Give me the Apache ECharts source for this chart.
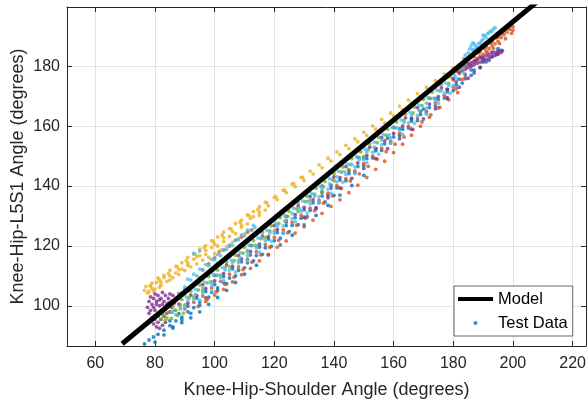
<!DOCTYPE html>
<html>
<head>
<meta charset="utf-8">
<script src="https://cdn.jsdelivr.net/npm/echarts@6/dist/echarts.min.js"></script>
<style>html,body{margin:0;padding:0;background:#fff}#c{width:588px;height:403px}</style>
</head>
<body>
<div id="c"></div>
<script>
// ---- data ----
var xTicks = [60, 80, 100, 120, 140, 160, 180, 200, 220];
var yTicks = [100, 120, 140, 160, 180];
var xRange = [50.5, 224.5];
var yRange = [86.6, 199.8];

var modelX = [69, 210];
var modelY = [87.35, 203.1];

var blueData = [
 [76.5,87.3],[78,88.6],[79.5,89.6],[81,90.5],[83,91.9],[85,93.4],[87,95.0],[89,96.2],[91,98.0],[93,99.4],[95,101.3],[97,102.7],[99,104.5],[101,106.0],[103,107.8],[105,109.3],[108,111.9],[111,114.4],[114,116.8],[117,119.4],[120,121.8],[123,124.3],[126,126.9],[129,129.3],[132,131.9],[135,134.4],[138,136.9],[141,139.4],[144,141.8],[147,144.5],[150,146.9],[153,149.4],[156,151.9],[159,154.4],[162,156.9],[165,159.4],[168,161.9],[171,164.4],[174,166.8],[177,169.4],[180,171.9],[183,174.4],[186,177.0],[189,179.5],[192,182.0],[194.5,184.0],[196.5,185.2],
 [86,92.6],[89,94.4],[92,96.0],[95,98.0],[98,100.5],[101,102.8],[104,105.2],[107,107.8],[110,110.6],[114,113.6],[118,117.0],[122,120.4],[126,123.6],[130,127.0],[134,130.2],[138,133.6],[142,137.0],[146,140.2],[150,143.6],
 [150,149.4],[154,152.5],[158,156.0],[162,159.1],[166,162.6],[170,165.7],[174,169.2],[178,172.3],[182,175.7],[186,178.8],[190,182.4],[193,184.8],[195,185.9],
 [85,95.0],[88,97.4],[91,99.9],[94,102.6],[97,104.8],[100,107.1],[103,109.8],[106,112.4],[109,114.7],[112,117.0],[115,119.6],[118,122.3],[121,124.5],[124,126.8],[127,129.5],[130,132.1],[133,134.4],[136,136.7],[139,139.3],[142,142.0],[145,144.2],[148,146.5],[151,149.2],[154,151.8],[157,154.1],[160,156.4],[163,159.0],[166,161.7],[169,163.9],[172,166.2],[175,168.9],[178,171.5],[181,173.8],[184,176.1],[187,178.7],[190,181.4],
 [80,87.9],[83,90.3],[86,93.0],[89,95.3],[92,97.5],[95,100.2],[98,102.9],[101,105.1],[104,107.4],[107,110.0],[110,112.7],[113,115.0],[116,117.2],[119,119.9],[122,122.6],[125,124.8],[128,127.1],[131,129.8],[134,132.4],[137,134.7],[140,136.9]
];
var orangeData = [
 [97,101.5],[100,103.6],[103,105.5],[106,108.0],[109,110.4],[112,112.5],[115,115.0],[118,117.2],[121,119.6],[124,121.7],[127,124.3],[130,126.4],[133,128.6],[136,130.9],[139,133.2],[142,135.4],[145,137.8],[148,140.3],[151,142.9],[154,145.6],[157,148.3],[160,151.2],[163,154.0],[166,157.0],[169,160.0],[172,163.0],[175,166.1],[178,169.2],[181,172.5],[184,175.8],
 [90,99.0],[93,101.2],[96,103.3],[99,106.0],[102,108.2],[105,110.6],[108,113.0],[111,115.6],[114,118.0],[117,120.5],[120,122.9],[123,125.4],[126,127.9],[129,130.3],[132,132.6],[135,135.3],[138,137.6],[141,140.2],[144,142.5],[147,145.1],[150,147.6],[153,150.0],[156,152.6],[159,155.0],[162,157.6],[165,160.0],[168,162.7],[171,165.0],[174,167.8],[177,170.3],[180,173.0],[183,175.6],
 [88,104.2],[90,105.5],[92,106.2],[96,112.0],[98,114.0],[100,116.0],[101.5,118.0],[103,118.6],[105,120.0],[107,121.9],[109,123.0],[111,124.6],[112.5,125.4],
 [180,175.5],[182,177.6],[184,179.0],[185.5,180.6],[187,181.4],[188,182.6],[189,183.3],[190,184.0],[191,185.0],[192,185.9],[193,186.8],[194,187.5],[195,188.4],[196,189.6],[197,190.5],[198,191.4],[199,192.3],[200,193.2],
 [188.5,184.5],[190.5,186.0],[192.5,187.8],[194.5,189.6],[196.5,191.3],[198.5,192.8],
 [186,180.0],[187.5,181.8],[189.5,183.0],[191.5,184.6],[193.5,186.0],[195.5,187.6],[197.5,189.2],[199.5,191.0],[196,190.8],[198,192.5],[200,192.0],[199,193.5],[197,191.8],[195,189.8],[193,188.2],[191,186.5],[189,184.8],[187,183.2],
 [94.5,99.8],[97.5,102.2],[100.5,104.7],[103.5,107.2],[106.5,109.6],[109.5,112.1],[112.5,114.6],[115.5,117.0],[118.5,119.5],[121.5,121.9],[124.5,124.4],[127.5,126.9],[130.5,129.3],[133.5,131.8],[136.5,134.3],[139.5,136.7],[142.5,139.2],[145.5,141.7],[148.5,144.1],[151.5,146.6],[154.5,149.0],[157.5,151.5],[160.5,154.0],[163.5,156.4],[166.5,158.9],[169.5,161.4],[172.5,163.8],[175.5,166.3],[178.5,168.8],[181.5,171.2]
];
var yellowData = [
 [77,106.5],[79,107.6],[81,109.3],[83,110.2],[85,111.9],[87,113.3],[89,114.4],[91,116.2],[93,117.3],[95,118.9],[97,120.1],[99,121.8],[101,123.0],[103,124.6],[105,125.8],[107,127.5],[109,128.6],[111,130.4],[113,131.5],[115,133.1],[117,134.6],[120,136.2],[123,138.6],[126,140.7],[129,142.9],[132,145.0],[135,147.1],[138,149.3],[141,151.4],[144,153.6],[147,155.8],[150,158.0],[153,160.1],[156,162.3],[159,164.4],[162,166.7],[165,168.7],[168,170.9],[171,173.0],[174,175.2],[177,177.4],[180,179.5],
 [78,104.8],[80,105.6],[82,106.9],[84,108.2],[86,109.4],[88,110.5],[90,111.8],[92,113.0],[94,114.0],[96,115.3],[98,116.2],[100,117.4],[102,118.6],[104,119.8],[106,121.2],[108,122.5],[110,124.0],
 [79,105.8],[82,107.9],[85,110.0],[88,112.1],[91,114.3],[94,116.4],[97,118.5],[100,120.6],[103,122.8],[106,124.9],[109,127.0],[112,129.2],[115,131.3],[118,133.4],[121,135.5],[124,137.8],[127,139.8],[130,141.9],[133,144.0],[136,146.1],[139,148.4],[142,150.5],[145,152.5],[148,154.8],[151,156.9],[154,159.0],[157,161.1],[160,163.4],[163,165.5],[166,167.6],[169,169.8],[172,171.9],[175,174.0],[178,176.2],[181,178.6],[184,181.0],
 [76.5,105.2],[77.5,104.3],[78.5,106.8],[79.5,105.0],[80.5,107.8],[81.5,106.2],[83,109.5],[85,108.6],[87,111.0],[89,112.3],[91,113.5],[93,115.6],[95,116.8],[97,117.2],[99,119.5],[101,120.0],[103,121.5],[105,123.2],[107,124.1],[109,126.3],[111,127.4],[113,129.8],[115,130.2],[117,132.0],
 [78.5,106.6],[81.5,108.7],[84.5,110.8],[87.5,113.0],[90.5,115.1],[93.5,117.3],[96.5,119.4],[99.5,121.5],[102.5,123.7],[105.5,125.8],[108.5,128.0],[111.5,130.1],[114.5,132.2],[117.5,134.4],[120.5,136.5],[123.5,138.7],[126.5,140.8],[129.5,142.9]
];
var purpleData = [
 [77.5,99.5],[78,101.5],[78.5,103],[79,100.5],[79.5,102.5],[80,104],[80.5,101.5],[81,103.5],[81.5,100],[82,102.5],[82.5,104.5],[83,101.5],[83.5,103.5],[84,100.5],[84.5,102.5],[85,104],[85.5,101.5],[86,103.5],[78,97.5],[79,96.0],[80,98.5],[81,96.5],[79.5,94],[80.5,93],[81.5,92.5],[82.5,93.5],[83.5,94.5],
 [78.5,98.5],[79.5,99.5],[80.5,100.5],[81.5,102],[82.5,100.5],[83.5,99],[84.5,101],[85.5,99.5],[86.5,101],[87,102.5],[80,95.5],[81,94.5],[82,95.5],[83,96.5],[84,97.5],[85,98],
 [88,100.6],[92,103.6],[96,107.1],[100,110.2],[104,113.7],[108,116.8],[112,120.2],[116,123.3],[120,126.8],[124,129.9],[128,133.4],[132,136.5],[136,140.0],[140,143.1],[144,146.5],[148,149.6],[152,153.0],[156,156.2],[160,159.6],[164,162.8],[168,166.2],[172,169.3],[176,172.8],[180,175.9],
 [130,129.6],[134,132.8],[138,136.1],[142,139.4],[146,142.6],[150,145.9],[154,149.2],[158,152.5],[162,155.8],[166,159.0],[170,162.4],[174,165.8],[178,169.5],[182,173.0],[185,176.0],[187,177.8],[189,179.7],[191,181.5],[193,183.2],[195,184.6],
 [180,178],[182,179.2],[184,180.2],[186,181.2],[188,182.1],[190,183],[192,183.8],[194,184.6],[196,185.3],[183,178.5],[185,179.6],[187,180.5],[189,181.4],[191,182.3],[193,183.2],[195,184],
 [181,178.4],[183,179.8],[185,180.8],[187,181.8],[189,182.8],[191,183.6],[193,184.4],[195,185.1],[182,178.0],[184,179.2],[186,180.2],[188,181.0],[190,181.9],[192,182.8],[194,183.6],[196,184.6],
 [91,100.9],[94,103.4],[97,105.8],[100,108.3],[103,110.8],[106,113.2],[109,115.7],[112,118.2],[115,120.6],[118,123.1],[121,125.5],[124,128.0],[127,130.5],[130,132.9],[133,135.4],[136,137.9],[139,140.3],[142,142.8],[145,145.2],[148,147.7],[151,150.2],[154,152.6],[157,155.1],[160,157.6],[163,160.0],[166,162.5],[169,165.0],[172,167.4],[175,169.9],[178,172.3],[181,174.8],[184,177.3]
];
var greenData = [
 [83,97.2],[86,99.9],[89,102.1],[92,104.9],[95,107.0],[98,109.8],[101,112.0],[104,114.7],[107,116.9],[110,119.6],[113,121.8],[116,124.5],[119,126.7],[122,129.5],[125,131.6],[128,134.4],[131,136.6],[134,139.3],[137,141.5],[140,144.2],[143,146.4],[146,149.2],[149,151.4],[152,154.1],[155,156.3],[158,159.0],[161,161.4],[164,164.0],[167,166.4],[170,169.0],[173,171.4],[176,174.0],[179,176.5],[182,179.0],[184,180.8],
 [82,95.5],[84,96.0],[87,98.5],[90,100.3],[93,103.0],[96,105.2],[99,108.0],[102,110.2],[105,113.0],[108,115.1],[111,118.0],[114,120.1],[117,122.9],[120,125.0],[124,128.6],[128,131.5],[132,135.2],[136,138.1],[140,141.8],[145,145.6],[150,149.9],
 [85.5,97.9],[88.5,100.4],[91.5,102.8],[94.5,105.3],[97.5,107.7],[100.5,110.2],[103.5,112.7],[106.5,115.1],[109.5,117.6],[112.5,120.1],[115.5,122.5],[118.5,125.0],[121.5,127.5],[124.5,129.9],[127.5,132.4],[130.5,134.8],[133.5,137.3],[136.5,139.8],[139.5,142.2],[142.5,144.7],[145.5,147.2],[148.5,149.6],[151.5,152.1],[154.5,154.5],[157.5,157.0],[160.5,159.5],[163.5,161.9],[166.5,164.4],[169.5,166.9],[172.5,169.3],[175.5,171.8],[178.5,174.3],
 [82.5,97.0],[83.5,95.2],[84.5,97.8],[85.5,95.8],[86.5,98.6],[87.5,96.8],[88.5,99.0],[89.5,97.6]
];
var lightBlueData = [
 [88,104.0],[90,106.3],[92,108.6],[94,110.0],[96,112.1],[98,113.4],[100,115.4],[102,116.8],[104,118.9],[106,120.2],[108,122.1],[110,123.4],[112,125.2],[113.5,126.2],[93,117.5],[95,118.3],
 [89,104.5],[95,109.4],[101,114.2],[107,119.0],
 [91,108.9],[93,110.6],[95,112.3],[97,113.8],[99,115.5],[101,117.1],[103,118.8],[105,120.4],[107,122.0],[109,123.7],[111,125.3],[113,126.9],
 [86,98.0],[88.5,99.6],[91,101.9],[93.5,103.8],[96,106.1],[98.5,108.0],[101,110.3],[103.5,112.0],[106,114.4],[108.5,116.1],[111,118.5],[113.5,120.2],[116,122.6],[118.5,124.3],[121,126.7],[123.5,128.4],[126,130.8],[128.5,132.5],[131,134.9],[133.5,136.6],[136,139.0],[138.5,140.7],[141,143.1],[143.5,144.8],[146,147.2],[148.5,148.9],[151,151.3],[153.5,153.0],[156,155.4],[158.5,157.1],[161,159.5],[163.5,161.2],[166,163.6],[168.5,165.3],[171,167.7],[173.5,169.4],[176,171.9],[178.5,173.6],[181,176.0],[183.5,177.8],
 [95,101.9],[99,104.8],[103,108.4],[107,111.3],[111,115.0],[115,117.9],[119,121.6],[123,124.5],[127,128.1],[131,131.0],[135,134.6],[139,137.6],[143,141.3],[147,144.2],[151,147.8],[155,150.7],[159,154.4],[163,157.3],[167,161.0],[171,164.0],[175,167.7],[179,171.0],
 [90.5,103.0],[93.5,105.5],[96.5,107.9],[99.5,110.4],[102.5,112.8],[105.5,115.3],[108.5,117.8],[111.5,120.2],[114.5,122.7],[117.5,125.2],[120.5,127.6],[123.5,130.1],[126.5,132.6],[129.5,135.0],[132.5,137.5],[135.5,139.9],[138.5,142.4],[141.5,144.9],[144.5,147.3],[147.5,149.8],[150.5,152.3],[153.5,154.7],[156.5,157.2],[159.5,159.6],[162.5,162.1],[165.5,164.6],[168.5,167.0],[171.5,169.5],[174.5,172.0],[177.5,174.4],[180.5,176.9],[183.5,179.4],
 [87,97.1],[90,99.6],[93,102.1],[96,104.5],[99,107.0],[102,109.4],[105,111.9],[108,114.4],[111,116.8],[114,119.3],[117,121.8],[120,124.2],[123,126.7],[126,129.1],[129,131.6],[132,134.1],[135,136.5],[138,139.0],[141,141.5],[144,143.9],[147,146.4],[150,148.9],[153,151.3],[156,153.8],[159,156.2],[162,158.7],[165,161.2],[168,163.6],[171,166.1],[174,168.6],[177,171.0],[180,173.5],
 [180,177.5],[182,180.0],[183.5,182.6],[185,184.5],[186,186.8],[187,187.5],[188,186.4],[189.5,188.5],[190.5,190.2],[191.5,190.9],[192.5,191.8],[193.5,192.5],[186.5,185.5],[190,189.0],
 [184,183.8],[185.5,185.8],[186.5,187.8],[187.5,186.8],[189,187.8],[190,190.4],[191,189.6],[192,191.2],[193,191.6],[194,192.9],[188.5,187.6],[187,185.6]
];

var seriesColors = ['#0072BD', '#D95319', '#EDB120', '#7E2F8E', '#77AC30', '#4DBEEE'];
var scatterSets = [blueData, orangeData, yellowData, purpleData, greenData, lightBlueData];

var FONT = 'Liberation Sans, Arial, Helvetica, sans-serif';
var TXT = '#262626';

function xAxisBase(pos, showLabel) {
  return {
    type: 'value', position: pos, min: xRange[0], max: xRange[1],
    axisLine: { show: true, onZero: false, lineStyle: { color: TXT, width: 1 } },
    axisTick: { show: true, inside: true, length: 5, lineStyle: { color: TXT }, customValues: xTicks },
    axisLabel: { show: showLabel, customValues: xTicks, color: TXT, fontSize: 16, fontFamily: FONT, margin: 10 },
    splitLine: { show: showLabel, lineStyle: { color: '#e3e3e3', width: 1 } }
  };
}
function yAxisBase(pos, showLabel) {
  return {
    type: 'value', position: pos, min: yRange[0], max: yRange[1],
    axisLine: { show: true, onZero: false, lineStyle: { color: TXT, width: 1 } },
    axisTick: { show: true, inside: true, length: 5, lineStyle: { color: TXT }, customValues: yTicks },
    axisLabel: { show: showLabel, customValues: yTicks, color: TXT, fontSize: 16, fontFamily: FONT, margin: 7 },
    splitLine: { show: showLabel, lineStyle: { color: '#e3e3e3', width: 1 } }
  };
}

var xa0 = xAxisBase('bottom', true);
xa0.name = 'Knee-Hip-Shoulder Angle (degrees)';
xa0.nameLocation = 'middle';
xa0.nameGap = 35;
xa0.nameMoveOverlap = false;
xa0.nameTextStyle = { color: TXT, fontSize: 18, fontFamily: FONT };
var ya0 = yAxisBase('left', true);
ya0.name = 'Knee-Hip-L5S1 Angle (degrees)';
ya0.nameLocation = 'middle';
ya0.nameGap = 40;
ya0.nameMoveOverlap = false;
ya0.nameTextStyle = { color: TXT, fontSize: 18, fontFamily: FONT };

var series = scatterSets.map(function (d, i) {
  return {
    name: 'Test Data', type: 'scatter', data: d, symbolSize: 3.8,
    itemStyle: { color: seriesColors[i] }, silent: true, z: 2
  };
});
series.push({
  name: 'Model', type: 'line', data: modelX.map(function (x, i) { return [x, modelY[i]]; }),
  showSymbol: false, symbol: 'none', clip: true, z: 5,
  lineStyle: { color: '#000', width: 5 }, itemStyle: { color: '#000' }
});

var chart = echarts.init(document.getElementById('c'), null, { renderer: 'canvas' });
chart.setOption({
  animation: false,
  backgroundColor: '#fff',
  grid: { left: 67, right: 2, top: 7, bottom: 57, containLabel: false, outerBoundsMode: 'none' },
  xAxis: [xa0, xAxisBase('top', false)],
  yAxis: [ya0, yAxisBase('right', false)],
  legend: {
    orient: 'vertical', left: 454, top: 286,
    itemWidth: 35, itemHeight: 4, itemGap: 6,
    padding: [4, 5, 4, 4],
    borderColor: TXT, borderWidth: 0.7, backgroundColor: '#fff',
    textStyle: { color: '#000', fontSize: 16.5, fontFamily: FONT, lineHeight: 18 },
    data: [{ name: 'Model', icon: 'rect' }, { name: 'Test Data', icon: 'circle' }],
    selectedMode: false
  },
  series: series
});
</script>
</body>
</html>
